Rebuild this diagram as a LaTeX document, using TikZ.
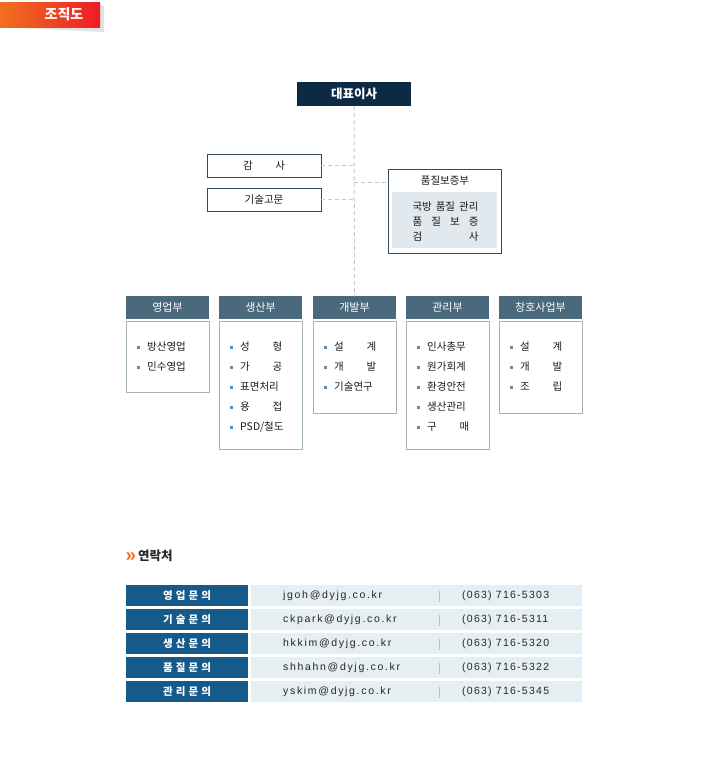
\documentclass[tikz,border=0pt]{standalone}
\usepackage{fontspec}
\setmainfont{Noto Sans CJK KR}
\newfontfamily\liber{Liberation Sans}
\newfontfamily\mailfont[LetterSpace=16]{Liberation Sans}
\newfontfamily\telfont[LetterSpace=12]{Liberation Sans}
\definecolor{navy}{HTML}{0D2A44}
\definecolor{boxbd}{HTML}{34495C}
\definecolor{qafill}{HTML}{E1E9EF}
\definecolor{hdrc}{HTML}{4B697C}
\definecolor{bodybd}{HTML}{A3B1BB}
\definecolor{bulc}{HTML}{5B8DB5}
\definecolor{labc}{HTML}{155A89}
\definecolor{valc}{HTML}{E4EEF3}
\definecolor{sepc}{HTML}{A9C7D9}
\definecolor{dashc}{HTML}{C8C8C8}
\definecolor{textc}{HTML}{1A1A1A}
\definecolor{bannerL}{HTML}{F07020}
\definecolor{bannerR}{HTML}{EE1C25}
\definecolor{shadowc}{HTML}{E2E2E2}
\definecolor{orangec}{HTML}{F26B1D}
\newcommand\tw[2]{\hbox to 4em{#1\hfill#2}}
\newcommand\lblx[4]{\hbox to 48pt{#1\hfill#2\hfill#3\hfill#4}}
\newcommand\lbl[1]{\lblx#1}
\newcommand\deptitems[3]{\foreach \t [count=\i] in {#3}{%
  \node[bul] (#1b\i) at (#2,327+20*\i) {};
  \node[itm] (#1t\i) at (#2+8.5,327+20*\i) {\t};}}
\newcommand\trow[4]{%
  \node[lab] (l#1) at (126,561+24*#1) {\lbl{#2}};
  \node[val] (v#1) at (251,561+24*#1) {};
  \node[mailtxt] (m#1) at (283,572+24*#1) {#3};
  \node[sepbar] (s#1) at (439,572+24*#1) {};
  \node[teltxt] (t#1) at (462,572+24*#1) {#4};}
\begin{document}
\begin{tikzpicture}[x=1pt,y=-1pt,
  box/.style 2 args={minimum width=#1pt, minimum height=#2pt, inner sep=0pt, outer sep=0pt, anchor=north west, line width=1pt},
  conn/.style={draw=dashc, line width=1pt, dash pattern=on 4pt off 3pt},
  hdr/.style={box={83}{23}, fill=hdrc, text=white, font=\fontsize{11}{12}\selectfont},
  bodybox/.style={box={83}{#1}, draw=bodybd},
  bul/.style={fill=bulc, minimum size=3pt, inner sep=0pt},
  itm/.style={anchor=west, inner sep=0pt, text=textc, font=\fontsize{10.5}{12}\selectfont},
  lab/.style={box={122}{21}, fill=labc, text=white, font=\bfseries\fontsize{10.5}{12}\selectfont},
  val/.style={box={331}{21}, fill=valc},
  mailtxt/.style={anchor=west, inner sep=0pt, text=black!85, font=\mailfont\fontsize{10.5}{12}\selectfont},
  teltxt/.style={anchor=west, inner sep=0pt, text=black!85, font=\telfont\fontsize{10.5}{12}\selectfont},
  sepbar/.style={fill=sepc, minimum width=1pt, minimum height=11pt, inner sep=0pt},
  wbox/.style={box={114}{23}, draw=boxbd, fill=white, text=textc, font=\fontsize{10.5}{12}\selectfont}
]
\useasboundingbox (0,0) rectangle (708,772);
% banner
\fill[shadowc] (0,27) -- (104,32) -- (104,6) -- (100,5) -- (100,27) -- cycle;
\shade[left color=bannerL, right color=bannerR] (0,2) rectangle (100,27);
\node[text=white, font=\bfseries\fontsize{14}{14}\selectfont, inner sep=0pt] (title) at (64,14.5) {조직도};
% top
\node[box={114}{24}, fill=navy, text=white, font=\bfseries\fontsize{12.5}{12}\selectfont] (ceo) at (297,82) {대표이사};
\node[wbox] (audit) at (207,154) {\tw{감}{사}};
\node[wbox] (advisor) at (207,188) {기술고문};
\node[box={113}{84}, draw=boxbd, fill=white] (qa) at (388,169) {};
\node[box={105}{56}, fill=qafill] (qain) at (392,192) {};
\node[itm, anchor=center] (qat) at (445,181) {품질보증부};
\node[itm, anchor=center] (qa1) at (445.5,207) {\hbox to 66pt{국방\hfill 품질\hfill 관리}};
\node[itm, anchor=center] (qa2) at (445.5,222) {\hbox to 66pt{품\hfill 질\hfill 보\hfill 증}};
\node[itm, anchor=center] (qa3) at (445.5,237) {\hbox to 66pt{검\hfill 사}};
% departments
\node[hdr] (h1) at (126,296) {영업부};
\node[hdr] (h2) at (219,296) {생산부};
\node[hdr] (h3) at (313,296) {개발부};
\node[hdr] (h4) at (406,296) {관리부};
\node[hdr] (h5) at (499,296) {창호사업부};
\node[bodybox=71] (b1) at (126,321) {};
\node[bodybox=128] (b2) at (219,321) {};
\node[bodybox=92] (b3) at (313,321) {};
\node[bodybox=128] (b4) at (406,321) {};
\node[bodybox=92] (b5) at (499,321) {};
\deptitems{d1}{138.5}{방산영업,민수영업}
\deptitems{d2}{231.5}{{\tw{성}{형}},{\tw{가}{공}},표면처리,{\tw{용}{접}},PSD/철도}
\deptitems{d3}{325.5}{{\tw{설}{계}},{\tw{개}{발}},기술연구}
\deptitems{d4}{418.5}{인사총무,원가회계,환경안전,생산관리,{\tw{구}{매}}}
\deptitems{d5}{511.5}{{\tw{설}{계}},{\tw{개}{발}},{\tw{조}{립}}}
% connectors
\draw[conn] (ceo.south) -- (h3.north);
\draw[conn] (audit.east) -- (audit.east -| ceo.south);
\draw[conn] (advisor.east) -- (advisor.east -| ceo.south);
\coordinate (qaj) at (354,182);
\draw[conn] (qaj) -- (qaj -| qa.west);
% contacts
\node[text=orangec, font=\liber\bfseries\fontsize{19}{19}\selectfont, inner sep=0pt] (raquo) at (131,557) {»};
\node[anchor=west, inner sep=0pt, text=black!85, font=\bfseries\fontsize{12.5}{12}\selectfont] (contact) at (138,556) {연락처};
\trow{1}{영업문의}{jgoh@dyjg.co.kr}{(063) 716-5303}
\trow{2}{기술문의}{ckpark@dyjg.co.kr}{(063) 716-5311}
\trow{3}{생산문의}{hkkim@dyjg.co.kr}{(063) 716-5320}
\trow{4}{품질문의}{shhahn@dyjg.co.kr}{(063) 716-5322}
\trow{5}{관리문의}{yskim@dyjg.co.kr}{(063) 716-5345}
\end{tikzpicture}
\end{document}
